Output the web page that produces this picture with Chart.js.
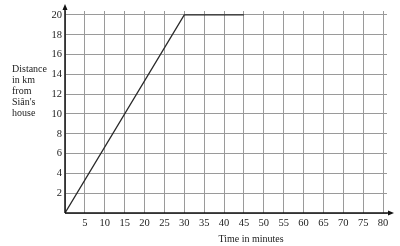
<!DOCTYPE html>
<html>
<head>
<meta charset="utf-8">
<script src="https://cdn.jsdelivr.net/npm/chart.js@4"></script>
<style>
  html, body { margin: 0; padding: 0; background: #fff; }
  #wrap { width: 400px; height: 246px; }
</style>
</head>
<body>
<div id="wrap"><canvas id="myChart"></canvas></div>
<script>
// Journey data (time in minutes, distance in km)
const times = [0, 30, 45];
const distances = [0, 20, 20];

const xTicks = [5, 10, 15, 20, 25, 30, 35, 40, 45, 50, 55, 60, 65, 70, 75, 80];
const yTicks = [2, 4, 6, 8, 10, 12, 14, 16, 18, 20];

const yLabelLines = ["Distance", "in km", "from", "Siân's", "house"];
const xLabel = "Time in minutes";

const serif = "'Liberation Serif', 'DejaVu Serif', serif";

const points = times.map((t, i) => ({ x: t, y: distances[i] }));

// axis arrows and axis labels
const extras = {
  id: "extras",
  afterDraw(chart) {
    const ctx = chart.ctx;
    const a = chart.chartArea;
    const x0 = chart.scales.x.getPixelForValue(0);
    const y0 = chart.scales.y.getPixelForValue(0);
    ctx.save();
    ctx.strokeStyle = "#111";
    ctx.fillStyle = "#111";
    ctx.lineWidth = 1.5;
    // y axis line up to arrow
    ctx.beginPath();
    ctx.moveTo(x0, y0);
    ctx.lineTo(x0, a.top - 2);
    ctx.stroke();
    ctx.beginPath();
    ctx.moveTo(x0, a.top - 7);
    ctx.lineTo(x0 - 2.5, a.top - 1);
    ctx.lineTo(x0 + 2.5, a.top - 1);
    ctx.closePath();
    ctx.fill();
    // x axis line to arrow
    ctx.beginPath();
    ctx.moveTo(x0, y0);
    ctx.lineTo(a.right + 2, y0);
    ctx.stroke();
    ctx.beginPath();
    ctx.moveTo(a.right + 7, y0);
    ctx.lineTo(a.right + 1, y0 - 2.5);
    ctx.lineTo(a.right + 1, y0 + 2.5);
    ctx.closePath();
    ctx.fill();

    ctx.font = "10px " + serif;
    ctx.fillStyle = "#222";
    ctx.textBaseline = "middle";
    ctx.textAlign = "left";
    yLabelLines.forEach((s, i) => ctx.fillText(s, 12, 69 + i * 11));
    ctx.textAlign = "center";
    ctx.fillText(xLabel, 251, 239);
    ctx.restore();
  }
};

const ctx = document.getElementById("myChart").getContext("2d");

new Chart(ctx, {
  type: "line",
  data: {
    datasets: [{
      data: points,
      borderColor: "#2a2a2a",
      borderWidth: 1.3,
      pointRadius: 0,
      fill: false,
      tension: 0
    }]
  },
  options: {
    responsive: true,
    maintainAspectRatio: false,
    animation: false,
    layout: { padding: { top: 11, right: 13, left: 0, bottom: 0 } },
    plugins: {
      legend: { display: false },
      tooltip: { enabled: false }
    },
    scales: {
      x: {
        type: "linear",
        min: 0,
        max: 81,
        afterBuildTicks: s => { s.ticks = [0].concat(xTicks).map(v => ({ value: v })); },
        afterFit: s => { s.height = 33; },
        grid: { color: "#9a9a9a", lineWidth: 1, drawTicks: false },
        border: { display: false },
        ticks: {
          padding: 4,
          color: "#222",
          font: { family: serif, size: 10.5 },
          maxRotation: 0,
          autoSkip: false,
          callback: v => (v === 0 ? "" : v)
        }
      },
      y: {
        min: 0,
        max: 20.4,
        afterBuildTicks: s => { s.ticks = [0].concat(yTicks).map(v => ({ value: v })); },
        afterFit: s => { s.width = 65; },
        grid: { color: "#9a9a9a", lineWidth: 1, drawTicks: false },
        border: { display: false },
        ticks: {
          padding: 3,
          color: "#222",
          font: { family: serif, size: 10.5 },
          autoSkip: false,
          callback: v => (v === 0 ? "" : v)
        }
      }
    }
  },
  plugins: [extras]
});
</script>
</body>
</html>
